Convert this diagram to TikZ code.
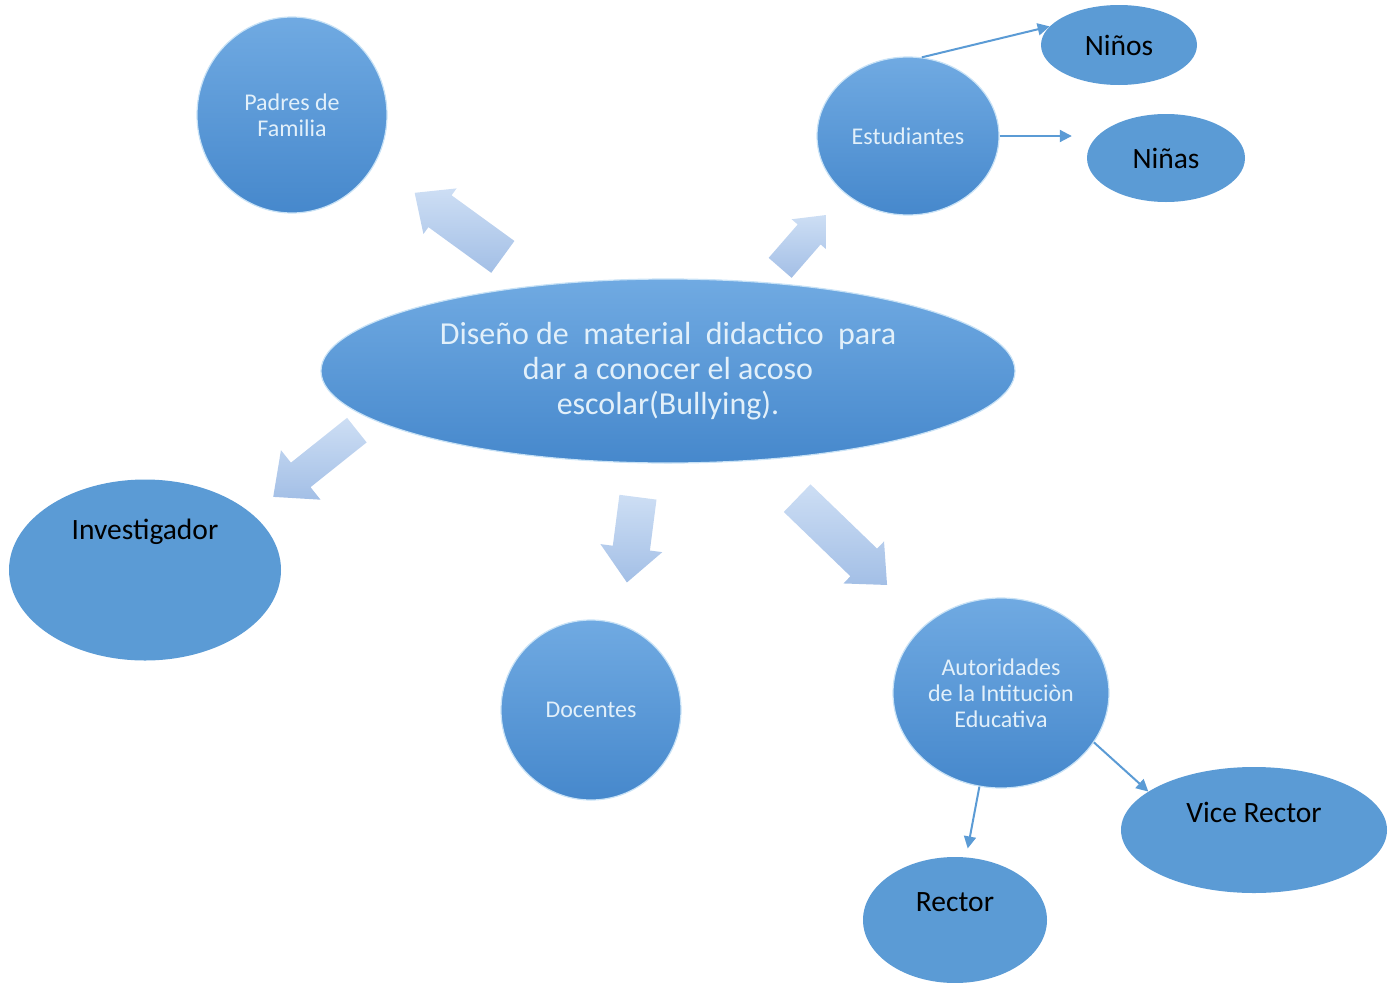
\documentclass[tikz,border=0pt]{standalone}
\usepackage{fontspec}
\setmainfont{Carlito}
\usepackage{tikz}
\usetikzlibrary{arrows.meta,shapes.geometric,shapes.arrows,positioning,calc}
\definecolor{blueM}{RGB}{91,155,213}
\definecolor{blueTop}{RGB}{112,170,226}
\definecolor{blueBot}{RGB}{70,136,204}
\definecolor{rimblue}{RGB}{200,226,246}
\definecolor{paletext}{RGB}{226,240,250}
\definecolor{arrowTop}{RGB}{205,222,244}
\definecolor{arrowBot}{RGB}{163,191,230}

\begin{document}
\begin{tikzpicture}[x=1pt, y=-1pt,
    glossy/.style={ellipse, draw=rimblue, line width=1.2pt, top color=blueTop,
        bottom color=blueBot, text=paletext, align=center, inner sep=0pt,
        font=\fontsize{24}{26}\selectfont},
    plainoval/.style={ellipse, fill=blueM, inner sep=0pt,
        font=\fontsize{29.5}{33}\selectfont},
    bigarrow/.style={single arrow, anchor=tail, inner xsep=0pt, text height=0pt,
        text depth=0pt, single arrow tip angle=84, top color=arrowTop,
        bottom color=arrowBot},
    link/.style={draw=blueM, line width=2pt, -{Triangle[length=12pt,width=12pt]}}]
    \useasboundingbox (0,0) rectangle (1393,983);
    \clip (0,0) rectangle (1393,983);

    % Centre
    \node[glossy, minimum width=694pt, minimum height=184pt,
        font=\fontsize{32}{35}\selectfont] (tema) at (668,371)
        {Diseño de\ \ material\ \ didactico\ \ para\\dar a conocer el acoso\\escolar(Bullying).};

    % Block arrows (placed by their tails)
    \node[bigarrow, minimum height=109pt, inner ysep=19.5pt,
        single arrow head extend=8.5pt, rotate=144] (arrpadres) at (503,257) {};
    \node[bigarrow, minimum height=70pt, inner ysep=15pt,
        single arrow head extend=8pt, rotate=49] (arrest) at (780,268) {};
    \node[bigarrow, minimum height=107pt, inner ysep=15.5pt,
        single arrow head extend=16pt, rotate=218.6] (arrinv) at (357,430) {};
    \node[bigarrow, minimum height=86pt, inner ysep=18.5pt,
        single arrow head extend=12.5pt, rotate=262.6] (arrdoc) at (638,497) {};
    \node[bigarrow, minimum height=125pt, inner ysep=19pt,
        single arrow head extend=10pt, rotate=-44] (arraut) at (797,498) {};

    % Glossy nodes
    \node[glossy, minimum width=190pt, minimum height=196pt] (padres) at (292,115)
        {Padres de\\Familia};
    \node[glossy, minimum width=182pt, minimum height=158pt] (est) at (908,136)
        {Estudiantes};
    \node[glossy, minimum width=180pt, minimum height=180pt] (doc) at (591,710)
        {Docentes};
    \node[glossy, minimum width=216pt, minimum height=190pt] (aut) at (1001,693)
        {Autoridades\\de la Intituciòn\\Educativa};

    % Plain ovals
    \node[plainoval, minimum width=156pt, minimum height=80pt] (ninos) at (1119,45) {Niños};
    \node[plainoval, minimum width=158pt, minimum height=88pt] (ninas) at (1166,158) {Niñas};
    \node[plainoval, minimum width=272pt, minimum height=181pt,
        label={[yshift=38pt, font=\fontsize{29.5}{33}\selectfont]center:Investigador}]
        (inv) at (145,570) {};
    \node[plainoval, minimum width=266pt, minimum height=126pt,
        label={[yshift=18pt, font=\fontsize{29.5}{33}\selectfont]center:Vice Rector}]
        (vice) at (1254,830) {};
    \node[plainoval, minimum width=184pt, minimum height=126pt,
        label={[yshift=18pt, font=\fontsize{29.5}{33}\selectfont]center:Rector}]
        (rector) at (955,920) {};

    % Thin links
    \draw[link] (est.80) -- (ninos.165);
    \draw[link, shorten >=15pt] (est.east) -- (est.east -| ninas.west);
    \draw[link] (aut.-28) -- (vice.160);
    \draw[link, shorten >=9pt] (aut.-103) -- (rector.80);
\end{tikzpicture}
\end{document}
